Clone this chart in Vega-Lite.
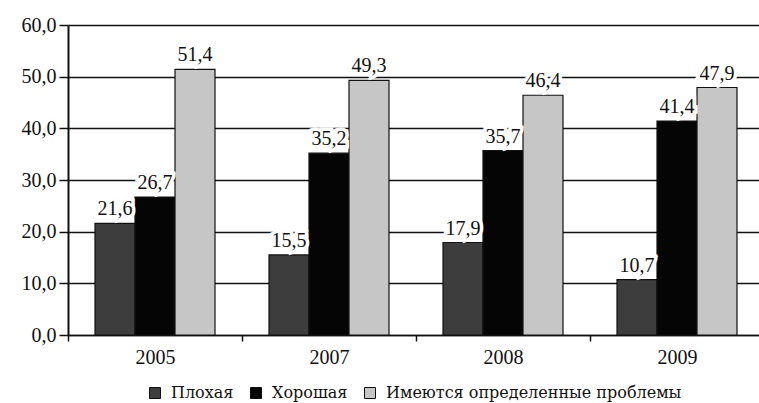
{
  "$schema": "https://vega.github.io/schema/vega-lite/v6.json",
  "autosize": {"type": "none"},
  "padding": {"left": 68, "top": 25, "right": 0, "bottom": 68},
  "width": 696,
  "height": 310,
  "background": "white",
  "config": {
    "locale": {"number": {"decimal": ",", "thousands": " ", "grouping": [3], "currency": ["", ""]}},
    "font": "Liberation Serif",
    "view": {"stroke": null},
    "legend": {"labelFont": "DejaVu Serif", "labelFontSize": 16, "labelLimit": 0}
  },
  "data": {
    "values": [
      {"year": "2005", "cat": "Плохая", "value": 21.6},
      {"year": "2005", "cat": "Хорошая", "value": 26.7},
      {"year": "2005", "cat": "Имеются определенные проблемы", "value": 51.4},
      {"year": "2007", "cat": "Плохая", "value": 15.5},
      {"year": "2007", "cat": "Хорошая", "value": 35.2},
      {"year": "2007", "cat": "Имеются определенные проблемы", "value": 49.3},
      {"year": "2008", "cat": "Плохая", "value": 17.9},
      {"year": "2008", "cat": "Хорошая", "value": 35.7},
      {"year": "2008", "cat": "Имеются определенные проблемы", "value": 46.4},
      {"year": "2009", "cat": "Плохая", "value": 10.7},
      {"year": "2009", "cat": "Хорошая", "value": 41.4},
      {"year": "2009", "cat": "Имеются определенные проблемы", "value": 47.9}
    ]
  },
  "encoding": {
    "x": {
      "field": "year", "type": "nominal",
      "scale": {"paddingInner": 0, "paddingOuter": 0},
      "axis": {
        "title": null, "labelAngle": 0, "labelFontSize": 20, "labelColor": "#111",
        "labelFont": "Liberation Serif", "tickBand": "extent", "tickColor": "#111",
        "tickSize": 6, "tickWidth": 1.5, "domainColor": "#111", "domainWidth": 1.5,
        "labelPadding": 6
      }
    },
    "xOffset": {
      "field": "cat", "type": "nominal",
      "sort": ["Плохая", "Хорошая", "Имеются определенные проблемы"],
      "scale": {"paddingInner": 0, "paddingOuter": 0.675}
    },
    "y": {
      "field": "value", "type": "quantitative",
      "scale": {"domain": [0, 60], "nice": false},
      "axis": {
        "title": null, "values": [0, 10, 20, 30, 40, 50, 60], "format": ".1f",
        "labelFontSize": 20, "labelColor": "#111", "labelFont": "Liberation Serif",
        "gridColor": "#111", "gridWidth": 1.5, "gridOpacity": 1,
        "tickColor": "#111", "tickSize": 9, "tickWidth": 1.5,
        "domainColor": "#111", "domainWidth": 2, "labelPadding": 3
      }
    }
  },
  "layer": [
    {
      "mark": {"type": "bar", "stroke": "#111", "strokeWidth": 1.2},
      "encoding": {
        "color": {
          "field": "cat", "type": "nominal",
          "sort": ["Плохая", "Хорошая", "Имеются определенные проблемы"],
          "scale": {
            "domain": ["Плохая", "Хорошая", "Имеются определенные проблемы"],
            "range": ["#3d3d3d", "#050505", "#c6c6c6"]
          },
          "legend": {
            "title": null, "orient": "none", "direction": "horizontal",
            "legendX": 79, "legendY": 360,
            "symbolType": "square", "symbolSize": 121, "symbolStrokeColor": "#111",
            "symbolStrokeWidth": 1, "symbolOpacity": 1,
            "labelFontSize": 16, "labelColor": "#111", "labelFont": "DejaVu Serif",
            "labelLimit": 0, "columnPadding": 14, "symbolOffset": 0, "labelOffset": 8
          }
        }
      }
    },
    {
      "mark": {"type": "text", "baseline": "bottom", "dy": -4, "fontSize": 20, "font": "Liberation Serif", "stroke": "white", "strokeWidth": 7, "fill": "white"},
      "encoding": {"text": {"field": "value", "type": "quantitative", "format": ".1f"}}
    },
    {
      "mark": {"type": "text", "baseline": "bottom", "dy": -4, "fontSize": 20, "font": "Liberation Serif", "fill": "#111"},
      "encoding": {"text": {"field": "value", "type": "quantitative", "format": ".1f"}}
    }
  ]
}
